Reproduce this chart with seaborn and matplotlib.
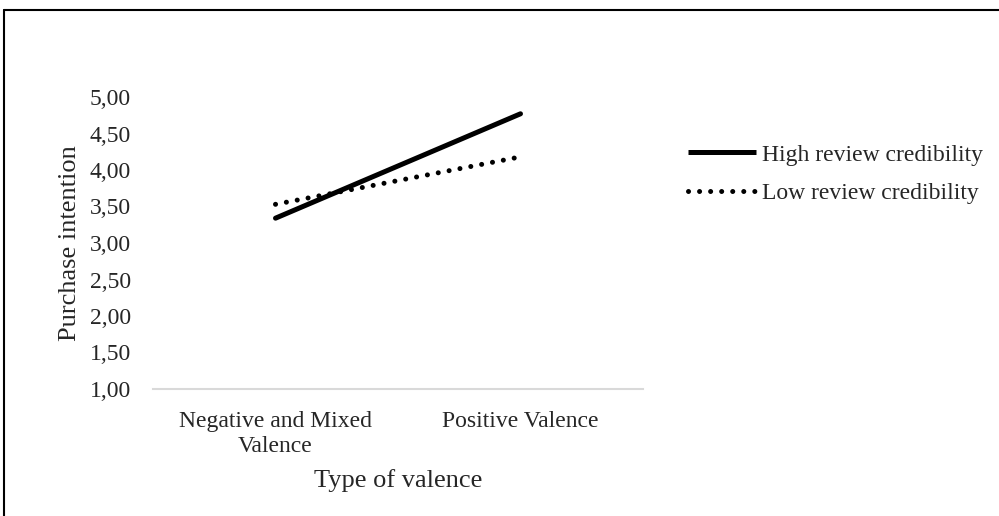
import matplotlib
matplotlib.use("Agg")
import matplotlib.pyplot as plt
import matplotlib.lines as mlines
import matplotlib.ticker as mticker
import pandas as pd
import seaborn as sns

# ── Data ──────────────────────────────────────────────────────────────────────
valence = ["Negative and Mixed\nValence", "Positive Valence"]
groups = ["High review credibility", "Low review credibility"]
high_cred = [3.34, 4.77]
low_cred = [3.53, 4.18]
y_ticks = [1.0, 1.5, 2.0, 2.5, 3.0, 3.5, 4.0, 4.5, 5.0]

df = pd.DataFrame({
    "valence": valence * 2,
    "group": [groups[0]] * 2 + [groups[1]] * 2,
    "intention": high_cred + low_cred,
})

# ── Style ─────────────────────────────────────────────────────────────────────
sns.set_style("white")
plt.rcParams["font.family"] = ["Liberation Serif", "DejaVu Serif"]

fig = plt.figure(figsize=(9.99, 5.16), dpi=100)
ax = fig.add_axes([153 / 999, 1 - 389 / 516, 490 / 999, 292 / 516])

sns.lineplot(
    data=df, x="valence", y="intention", hue="group", style="group",
    palette=["black", "black"],
    dashes={groups[0]: "", groups[1]: (0.01, 2.2)},
    linewidth=3.6, legend=False, ax=ax,
)
for ln in ax.get_lines():
    ln.set_solid_capstyle("round")
    ln.set_dash_capstyle("round")

ax.set_xlim(-0.5, 1.5)
ax.set_ylim(1, 5)
ax.set_yticks(y_ticks)
ax.yaxis.set_major_formatter(
    mticker.FuncFormatter(lambda v, _: f"{v:.2f}".replace(".", ","))
)
ax.tick_params(axis="y", length=0, pad=16, labelsize=17)
ax.set_xticks([0, 1])
ax.set_xticklabels(valence, fontsize=17, linespacing=1.25)
ax.tick_params(axis="x", which="major", length=0, pad=16)
ax.set_xticks([-0.5, 0.5, 1.5], minor=True)
ax.tick_params(axis="x", which="minor", length=5, width=1.5,
               color="#d9d9d9", direction="out")

for s in ["top", "right", "left"]:
    ax.spines[s].set_visible(False)
ax.spines["bottom"].set_color("#d9d9d9")
ax.spines["bottom"].set_linewidth(1.5)

ax.set_xlabel("Type of valence", fontsize=19)
ax.set_ylabel("Purchase intention", fontsize=19)
ax.xaxis.set_label_coords(0.5, -0.275)
ax.yaxis.set_label_coords(-0.146, 0.5)

# legend
handles = [
    mlines.Line2D([], [], color="black", lw=3.6, solid_capstyle="butt"),
    mlines.Line2D([], [], color="black", lw=3.6, ls=(0, (0.01, 2.2)),
                  dash_capstyle="round"),
]
fig.legend(handles, groups, loc="upper left",
           bbox_to_anchor=(688 / 999, 1 - 144 / 516),
           frameon=False, fontsize=17, handlelength=2.9, handletextpad=0.25,
           labelspacing=0.72, borderpad=0, borderaxespad=0)

# outer frame (top and left edges visible in the crop)
fig.add_artist(mlines.Line2D([4 / 999, 4 / 999], [-0.1, 1 - 9.5 / 516],
                             transform=fig.transFigure, color="black", lw=1.5))
fig.add_artist(mlines.Line2D([4 / 999, 1.1], [1 - 9.5 / 516, 1 - 9.5 / 516],
                             transform=fig.transFigure, color="black", lw=1.5))

fig.savefig("out.png", dpi=100)
